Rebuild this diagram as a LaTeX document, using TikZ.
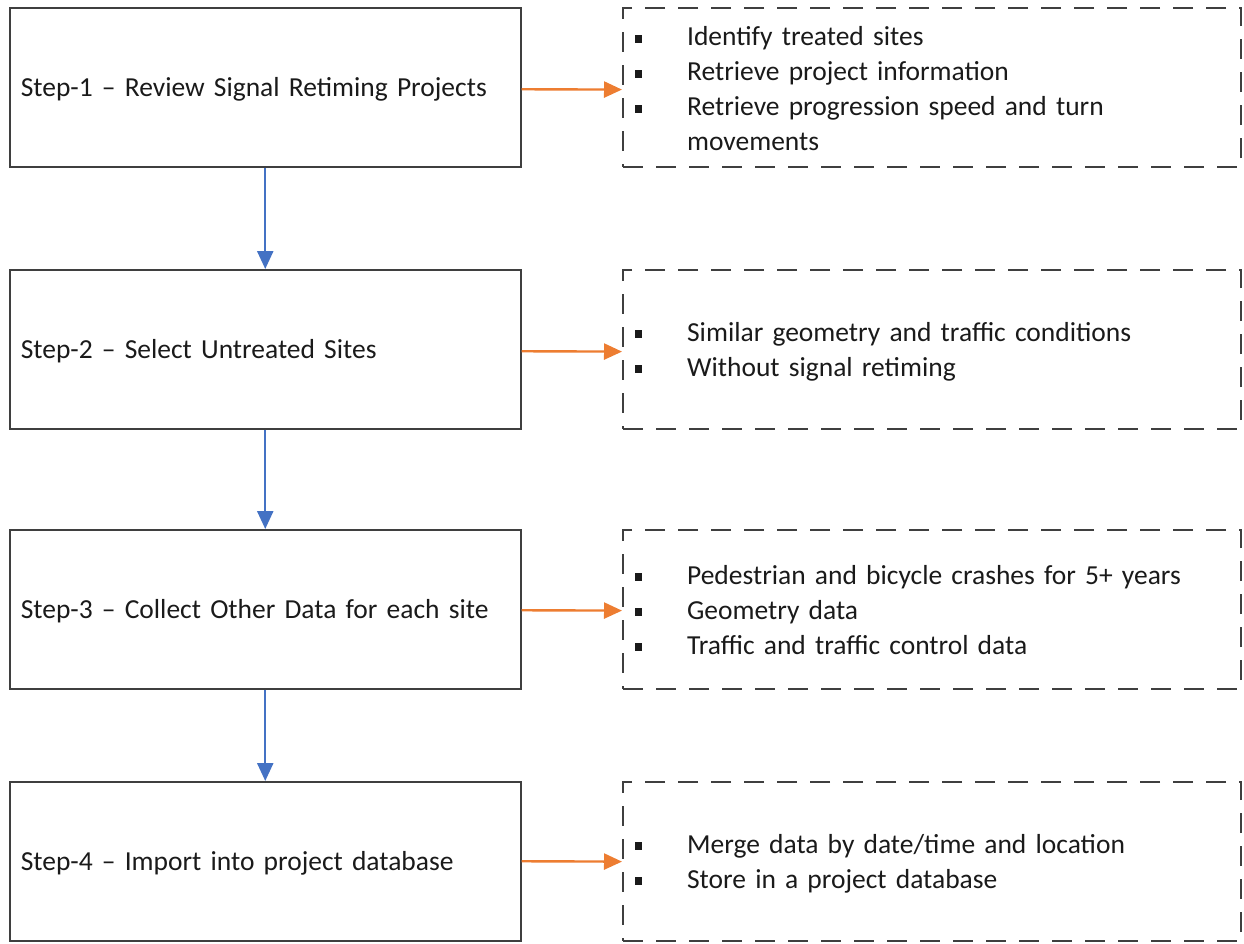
\documentclass[tikz,border=0pt]{standalone}
\usepackage{fontspec}
\setmainfont{Carlito}
\usetikzlibrary{arrows.meta}
\definecolor{flowblue}{HTML}{4472C4}
\definecolor{floworange}{HTML}{ED7D31}
\definecolor{boxgray}{HTML}{3F3F3F}
\definecolor{txt}{HTML}{1A1A1A}
\newcommand\bulletitem[1]{\par\hangindent=64pt\hangafter=1\noindent
  \makebox[64pt][l]{\hspace{12pt}\rule[3pt]{7pt}{8pt}}#1\par}
\tikzset{
  stepbox/.style={draw=boxgray, line width=1.5pt, minimum width=511pt,
    minimum height=159pt, text width=489pt, inner xsep=11pt, align=left,
    anchor=north west, font=\fontsize{27.5}{35}\selectfont, text=txt},
  notebox/.style={draw=boxgray, line width=2.2pt, dash pattern=on 20pt off 13pt,
    minimum width=618pt, minimum height=159pt, text width=618pt, inner xsep=0pt,
    inner ysep=0pt, anchor=north west, font=\fontsize{27.5}{35}\selectfont,
    text=txt},
  downarrow/.style={draw=flowblue, line width=2.4pt,
    -{Triangle[length=18pt,width=16pt]}},
  sidearrow/.style={draw=floworange, line width=2.4pt,
    -{Triangle[length=18pt,width=16pt]}},
}
\begin{document}
\begin{tikzpicture}[x=1pt,y=1pt]
\useasboundingbox (0,0) rectangle (1244,-943);
% process steps
\node[stepbox] (s1) at (9,-7)   {Step-1 – Review Signal Retiming Projects\par\vspace{-4pt}};
\node[stepbox] (s2) at (9,-269) {Step-2 – Select Untreated Sites\par\vspace{-4pt}};
\node[stepbox] (s3) at (9,-529) {Step-3 – Collect Other Data for each site\par\vspace{-4pt}};
\node[stepbox] (s4) at (9,-781) {Step-4 – Import into project database\par\vspace{-4pt}};
% task lists
\node[notebox] (n1) at (622,-7) {%
  \bulletitem{Identify treated sites}
  \bulletitem{Retrieve project information}
  \bulletitem{Retrieve progression speed and turn\newline movements}
  \vspace{14pt}};
\node[notebox] (n2) at (622,-269) {%
  \bulletitem{Similar geometry and traffic conditions}
  \bulletitem{Without signal retiming}
  \vspace{12pt}};
\node[notebox] (n3) at (622,-529) {%
  \bulletitem{Pedestrian and bicycle crashes for 5+ years}
  \bulletitem{Geometry data}
  \bulletitem{Traffic and traffic control data}
  \vspace{16pt}};
\node[notebox] (n4) at (622,-781) {%
  \bulletitem{Merge data by date/time and location}
  \bulletitem{Store in a project database}
  \vspace{12pt}};
% flow between steps
\draw[downarrow] (s1.south) -- (s2.north);
\draw[downarrow] (s2.south) -- (s3.north);
\draw[downarrow] (s3.south) -- (s4.north);
% links to task lists
\draw[sidearrow] ([yshift=-2pt]s1.east) -- ([yshift=-2pt]n1.west);
\draw[sidearrow] ([yshift=-2pt]s2.east) -- ([yshift=-2pt]n2.west);
\draw[sidearrow] ([yshift=-1pt]s3.east) -- ([yshift=-1pt]n3.west);
\draw[sidearrow] (s4.east) -- (n4.west);
\end{tikzpicture}
\end{document}
